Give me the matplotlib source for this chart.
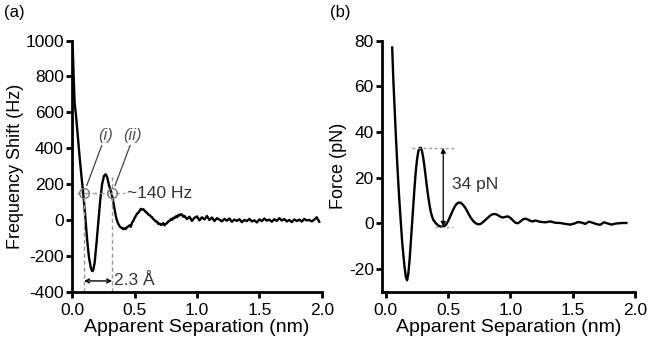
import matplotlib
matplotlib.use('Agg')
import matplotlib.pyplot as plt

plt.rcParams['font.family'] = ['Liberation Sans', 'DejaVu Sans']
plt.rcParams['axes.unicode_minus'] = False

# (a) frequency shift vs apparent separation
sep_a = [0.005, 0.012, 0.02, 0.03, 0.045, 0.06, 0.075, 0.09, 0.105, 0.12,
         0.135, 0.15, 0.16, 0.168, 0.18, 0.195, 0.21, 0.225, 0.24, 0.255,
         0.268, 0.28, 0.295, 0.31, 0.32, 0.335, 0.35, 0.365, 0.38, 0.39,
         0.40, 0.41, 0.42, 0.43, 0.44, 0.45, 0.46, 0.47, 0.48, 0.49,
         0.50, 0.51, 0.52, 0.53, 0.54, 0.55, 0.56, 0.57, 0.58, 0.59,
         0.60, 0.61, 0.62, 0.63, 0.64, 0.65, 0.66, 0.67, 0.68, 0.69,
         0.70, 0.71, 0.72, 0.73, 0.74, 0.75, 0.76, 0.77, 0.78, 0.79,
         0.80, 0.81, 0.82, 0.83, 0.84, 0.85, 0.86, 0.87, 0.88, 0.89,
         0.90, 0.92, 0.94, 0.96, 0.98, 1.00, 1.02, 1.04, 1.06, 1.08,
         1.10, 1.12, 1.14, 1.16, 1.18, 1.20, 1.22, 1.24, 1.26, 1.28,
         1.30, 1.32, 1.34, 1.36, 1.38, 1.40, 1.42, 1.44, 1.46, 1.48,
         1.50, 1.52, 1.54, 1.56, 1.58, 1.60, 1.62, 1.64, 1.66, 1.68,
         1.70, 1.72, 1.74, 1.76, 1.78, 1.80, 1.82, 1.84, 1.86, 1.88,
         1.90, 1.92, 1.94, 1.96, 1.98]
shift_a = [960, 800, 650, 590, 470, 350, 240, 140, 20, -110,
           -210, -268, -285, -282, -240, -130, -10, 110, 200, 245,
           255, 240, 195, 160, 135, 80, 20, -15, -35, -42,
           -45, -52, -46, -50, -40, -36, -30, -38, -15, -5,
           10, 22, 35, 40, 50, 62, 58, 60, 52, 45,
           40, 30, 28, 20, 15, 5, 0, -8, -10, -22,
           -20, -28, -25, -18, -30, -22, -18, -8, -5, 4,
           0, 12, 10, 20, 15, 28, 25, 32, 30, 18,
           22, 5, 18, -5, 12, 20, -2, 15, 3, 22,
           0, 14, -6, 10, 2, -8, 6, -4, 8, -10,
           2, -5, 4, -12, 0, -6, 6, -8, -2, -14,
           3, -6, 8, -4, 2, -10, 4, -5, 10, -3,
           5, -8, 0, -12, 3, -6, 2, -9, 6, -3,
           0, -8, 2, 15, -10]

# (b) force vs apparent separation
sep_b = [0.05, 0.06, 0.07, 0.08, 0.09, 0.10, 0.11, 0.12, 0.13, 0.14,
         0.15, 0.16, 0.17, 0.18, 0.19, 0.20, 0.21, 0.22, 0.23, 0.24,
         0.25, 0.26, 0.27, 0.28, 0.29, 0.30, 0.31, 0.32, 0.33, 0.34,
         0.35, 0.36, 0.37, 0.38, 0.40, 0.42, 0.44, 0.46, 0.48, 0.50,
         0.52, 0.54, 0.56, 0.58, 0.60, 0.62, 0.64, 0.66, 0.68, 0.70,
         0.72, 0.74, 0.76, 0.78, 0.80, 0.82, 0.84, 0.86, 0.88, 0.90,
         0.92, 0.94, 0.96, 0.98, 1.00, 1.02, 1.04, 1.06, 1.08, 1.10,
         1.12, 1.14, 1.16, 1.18, 1.20, 1.24, 1.28, 1.32, 1.36, 1.40,
         1.44, 1.48, 1.51, 1.54, 1.57, 1.60, 1.63, 1.66, 1.69, 1.72,
         1.75, 1.78, 1.81, 1.84, 1.87, 1.90, 1.93]
force_b = [77, 62, 50, 38, 27, 17, 8, 0, -8, -14,
           -19.5, -23.5, -25, -22, -16, -8, 0, 8, 16, 23,
           28, 31.5, 33, 33, 31.5, 28.5, 24.5, 20, 15.5, 11.5,
           8, 5, 3, 1.5, 0, -1, -1.5, -1.5, -0.8, 1,
           3.5, 6, 8, 9, 9, 8, 6.5, 4.5, 2.5, 1,
           0, -0.5, -0.3, 0.5, 1.5, 2.5, 3.5, 4, 4, 3.5,
           2.8, 2.5, 2.8, 3, 2.3, 1.2, 0.2, 0, 0.8, 1.7,
           2, 1.6, 1, 0.8, 1.2, 0.6, 0.4, 0.8, 0.2, 0.1,
           -0.3, -0.6, -0.2, 0.5, 0.3, -0.3, 0.7, 0.2, -0.4, -0.7,
           0.4, -0.1, -0.6, -0.2, 0, 0.1, 0.1]

gray = '#555555'
dgray = '#999999'

fig = plt.figure(figsize=(6.5, 3.44), dpi=100)
ax1 = fig.add_axes([0.111, 0.152, 0.384, 0.730])
ax2 = fig.add_axes([0.588, 0.152, 0.389, 0.730])

for ax in (ax1, ax2):
    ax.spines['top'].set_visible(False)
    ax.spines['right'].set_visible(False)
    ax.spines['left'].set_linewidth(2)
    ax.spines['bottom'].set_linewidth(2)
    ax.tick_params(width=2, length=4, labelsize=12.5, pad=2)
    ax.tick_params(axis='x', pad=4)
    ax.set_xticks([0.0, 0.5, 1.0, 1.5, 2.0])
    ax.set_xticklabels(['0.0', '0.5', '1.0', '1.5', '2.0'])
    ax.set_xlabel('Apparent Separation (nm)', fontsize=14, labelpad=1)

# panel a
ax1.plot(sep_a, shift_a, color='black', lw=1.7)
ax1.set_xlim(0, 2.0)
ax1.set_ylim(-400, 1000)
ax1.set_yticks(range(-400, 1001, 200))
ax1.set_ylabel('Frequency Shift (Hz)', fontsize=13, labelpad=1)

ax1.plot([0.04, 0.42], [150, 150], ls=(0, (3, 2.5)), color=dgray, lw=1)
ax1.plot([0.096, 0.096], [-400, 150], ls=(0, (3, 2)), color=dgray, lw=1)
ax1.plot([0.32, 0.32], [-400, 250], ls=(0, (3, 2)), color=dgray, lw=1)
ax1.plot([0.096, 0.318], [150, 150], 'o', ms=7, mfc='none', mec='#777777', mew=1)
ax1.text(0.44, 150, '~140 Hz', fontsize=12.5, color='#333333', va='center')
ax1.text(0.265, 470, '(i)', fontsize=12, style='italic', color=gray, ha='center', va='center')
ax1.text(0.48, 470, '(ii)', fontsize=12, style='italic', color=gray, ha='center', va='center')
ax1.plot([0.237, 0.117], [415, 192], color='#444444', lw=0.9)
ax1.plot([0.464, 0.344], [415, 192], color='#444444', lw=0.9)
ax1.annotate('', xy=(0.096, -340), xytext=(0.32, -340),
             arrowprops=dict(arrowstyle='<->', color='black', lw=1, shrinkA=0, shrinkB=0,
                             mutation_scale=7))
ax1.text(0.335, -335, '2.3 Å', fontsize=12.5, color='#333333', va='center')

# panel b
ax2.plot(sep_b, force_b, color='black', lw=1.7)
ax2.set_xlim(-0.03, 2.0)
ax2.set_ylim(-30, 80)
ax2.set_yticks([-20, 0, 20, 40, 60, 80])
ax2.set_ylabel('Force (pN)', fontsize=13, labelpad=1)

ax2.plot([0.21, 0.55], [33, 33], ls=(0, (2, 2)), color=dgray, lw=1)
ax2.plot([0.39, 0.54], [-1.5, -1.5], ls=(0, (2, 2)), color=dgray, lw=1)
ax2.annotate('', xy=(0.46, 33), xytext=(0.46, -1.5),
             arrowprops=dict(arrowstyle='<|-|>', color='black', lw=0.9, shrinkA=0, shrinkB=0,
                             mutation_scale=7))
ax2.text(0.53, 17, '34 pN', fontsize=12.5, color='#333333', va='center')

fig.text(0.006, 0.965, '(a)', fontsize=12, va='center')
fig.text(0.508, 0.965, '(b)', fontsize=12, va='center')

fig.savefig('out.png', dpi=100)
